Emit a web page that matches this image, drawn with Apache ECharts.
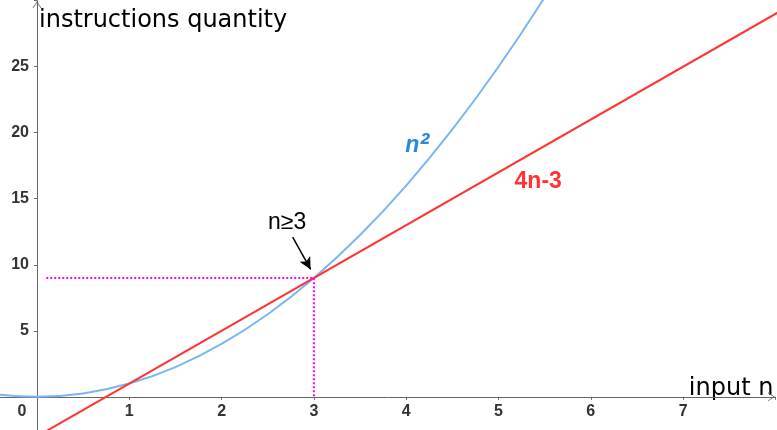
<!DOCTYPE html>
<html>
<head>
<meta charset="utf-8">
<script src="https://cdn.jsdelivr.net/npm/echarts@6/dist/echarts.min.js"></script>
<style>html,body{margin:0;padding:0;background:#fff}#c{width:777px;height:430px}</style>
</head>
<body>
<div id="c"></div>
<script>
// ---- data ----
const curveN = [-1, -0.5, 0, 0.5, 1, 1.5, 2, 2.5, 3, 3.5, 4, 4.5, 5, 5.5, 6];
const curveV = [1, 0.25, 0, 0.25, 1, 2.25, 4, 6.25, 9, 12.25, 16, 20.25, 25, 30.25, 36];
const lineN = [-1, 8.5];
const lineV = [-7, 31];
const guideN = [0.1, 3, 3];
const guideV = [9, 9, 0];
const xTicks = [0, 1, 2, 3, 4, 5, 6, 7];
const yTicks = [5, 10, 15, 20, 25];
const curveLabel = ['n', '²'];
const lineLabel = '4n-3';
const pointLabel = 'n≥3';
const xName = 'input n';
const yName = 'instructions quantity';

const zip = (a, b) => a.map((v, i) => [v, b[i]]);
const chart = echarts.init(document.getElementById('c'));
const tickFont = { fontFamily: 'Liberation Sans, Arial, sans-serif', fontWeight: 'bold', fontSize: 16, color: '#333' };
const chevron = 'path://M0,0 L6,9 L4.8,9 L0,1.8 L-4.8,9 L-6,9 Z';
const blueLabel = { fontFamily: 'Liberation Sans, Arial', fontWeight: 'bold', fontStyle: 'italic', color: '#2a86e0' };

chart.setOption({
  animation: false,
  backgroundColor: '#fff',
  grid: { left: -55.3, right: 1.6, top: 0.7, bottom: -32.8, containLabel: false, outerBoundsMode: 'none' },
  xAxis: {
    type: 'value', min: -1, max: 8, interval: 1, position: 'bottom', offset: -66,
    splitLine: { show: false },
    axisLine: { onZero: false, lineStyle: { color: '#666', width: 1 }, symbol: ['none', chevron], symbolSize: [9, 7], symbolOffset: [0, -4] },
    axisTick: { show: true, length: 3, lineStyle: { color: '#666' } },
    axisLabel: Object.assign({}, tickFont, {
      margin: 7,
      formatter: v => xTicks.indexOf(v) < 0 ? '' : (v === 0 ? '{o|0}' : String(v)),
      rich: { o: Object.assign({}, tickFont, { padding: [0, 30, 0, 0] }) }
    }),
    name: xName, nameLocation: 'end', nameGap: -2,
    nameTextStyle: { fontFamily: 'DejaVu Sans', fontSize: 24, color: '#000', align: 'right', verticalAlign: 'bottom', padding: [0, 0, -4, 0] }
  },
  yAxis: {
    type: 'value', min: -5, max: 30, interval: 5, position: 'left', offset: -92.3,
    splitLine: { show: false },
    axisLine: { onZero: false, lineStyle: { color: '#666', width: 1 }, symbol: ['none', chevron], symbolSize: [9, 7], symbolOffset: [0, -4] },
    axisTick: { show: true, length: 3, lineStyle: { color: '#666' } },
    axisLabel: Object.assign({}, tickFont, {
      margin: 8,
      formatter: v => yTicks.indexOf(v) < 0 ? '' : String(v)
    }),
    name: yName, nameLocation: 'end', nameGap: -8,
    nameTextStyle: { fontFamily: 'DejaVu Sans', fontSize: 24, color: '#000', align: 'left', verticalAlign: 'top', padding: [0, 0, 0, 2] }
  },
  series: [
    {
      type: 'line', data: zip(curveN, curveV), smooth: 0.35, showSymbol: false,
      lineStyle: { color: '#7ab6f2', width: 2 },
      markPoint: {
        symbol: 'circle', symbolSize: 0,
        label: {
          show: true,
          formatter: '{a|' + curveLabel[0] + '}{b|' + curveLabel[1] + '}',
          rich: {
            a: Object.assign({ fontSize: 23 }, blueLabel),
            b: Object.assign({ fontSize: 30, verticalAlign: 'top' }, blueLabel)
          }
        },
        data: [{ coord: [4.12, 19.05] }]
      }
    },
    {
      type: 'line', data: zip(lineN, lineV), showSymbol: false,
      lineStyle: { color: '#ff3333', width: 2 },
      markPoint: {
        symbol: 'circle', symbolSize: 0,
        label: { show: true, formatter: lineLabel, fontFamily: 'Liberation Sans, Arial', fontWeight: 'bold', fontSize: 23, color: '#ff3333' },
        data: [{ coord: [5.43, 16.3] }]
      }
    },
    {
      type: 'line', data: zip(guideN, guideV), showSymbol: false,
      lineStyle: { color: '#ff00ff', width: 2, type: [2, 2] },
      markPoint: {
        symbol: 'circle', symbolSize: 0,
        label: { show: true, formatter: pointLabel, fontFamily: 'Liberation Sans, Arial', fontSize: 23, color: '#000' },
        data: [{ coord: [2.71, 13.2] }]
      },
      markLine: {
        silent: true, symbol: ['none', 'arrow'], symbolSize: [9, 12],
        lineStyle: { color: '#000', width: 1.5, type: 'solid' },
        label: { show: false },
        data: [[{ coord: [2.77, 12.1] }, { coord: [2.965, 9.65] }]]
      }
    }
  ]
});
</script>
</body>
</html>
